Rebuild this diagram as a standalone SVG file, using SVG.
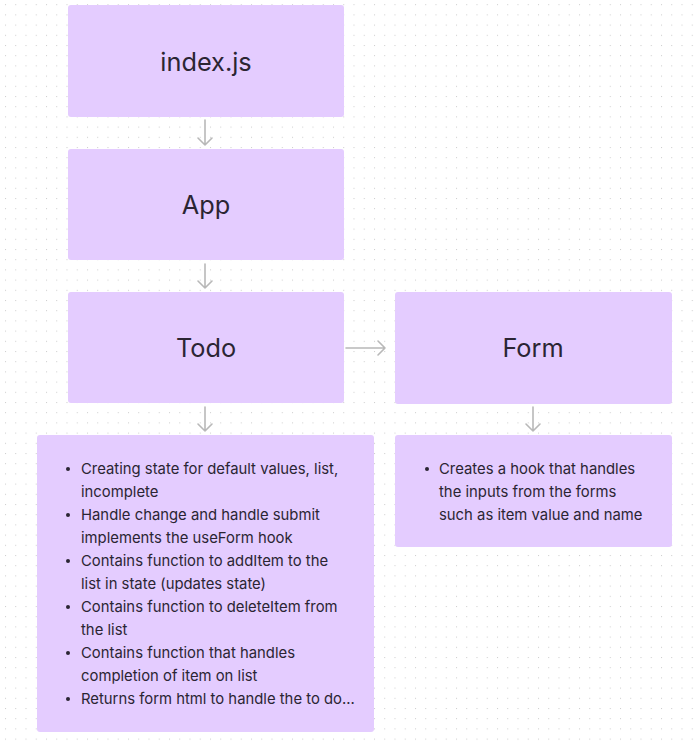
<svg xmlns="http://www.w3.org/2000/svg" width="694" height="746" viewBox="0 0 694 746">
<defs>
<pattern id="dots" x="5" y="4.2" width="10.25" height="10.2" patternUnits="userSpaceOnUse">
<rect x="0" y="0" width="1" height="1" fill="#cccccc"/>
</pattern>
<style>
.box{fill:#e4ccff;}
.title{font-family:Inter,"Noto Sans",sans-serif;font-size:25.3px;fill:#2b2533;text-anchor:middle;}
.txt{font-family:Inter,"Noto Sans",sans-serif;font-size:14.85px;fill:#2b2533;}
.con{stroke:#b8b8b8;stroke-width:1.6;fill:none;stroke-linecap:round;stroke-linejoin:round;}
.bul{fill:#2b2533;}
</style>
</defs>
<rect width="694" height="746" fill="#ffffff"/>
<rect width="694" height="746" fill="url(#dots)"/>
<g id="connectors">
<path class="con" d="M205 120 V145 M198 138 L205 145 L212 138"/>
<path class="con" d="M205 264 V288 M198 281 L205 288 L212 281"/>
<path class="con" d="M346 348 H385 M378 341 L385 348 L378 355"/>
<path class="con" d="M205 407 V431 M198 424 L205 431 L212 424"/>
<path class="con" d="M533 407 V431 M526 424 L533 431 L540 424"/>
</g>
<g id="node-index">
<rect class="box" x="68" y="5" width="276" height="112" rx="3"/>
<text class="title" x="206" y="71">index.js</text>
</g>
<g id="node-app">
<rect class="box" x="68" y="149" width="276" height="111" rx="3"/>
<text class="title" x="206" y="214">App</text>
</g>
<g id="node-todo">
<rect class="box" x="68" y="292" width="276" height="111" rx="3"/>
<text class="title" x="206" y="357">Todo</text>
</g>
<g id="node-form">
<rect class="box" x="395" y="292" width="277" height="112" rx="3"/>
<text class="title" x="533" y="357">Form</text>
</g>
<g id="node-todo-notes">
<rect class="box" x="37" y="435" width="337" height="297" rx="3"/>
<circle class="bul" cx="68" cy="469" r="2"/>
<circle class="bul" cx="68" cy="515" r="2"/>
<circle class="bul" cx="68" cy="561" r="2"/>
<circle class="bul" cx="68" cy="607" r="2"/>
<circle class="bul" cx="68" cy="653" r="2"/>
<circle class="bul" cx="68" cy="699" r="2"/>
<text class="txt" x="81" y="474">Creating state for default values, list,</text>
<text class="txt" x="81" y="497">incomplete</text>
<text class="txt" x="81" y="520">Handle change and handle submit</text>
<text class="txt" x="81" y="543">implements the useForm hook</text>
<text class="txt" x="81" y="566">Contains function to addItem to the</text>
<text class="txt" x="81" y="589">list in state (updates state)</text>
<text class="txt" x="81" y="612">Contains function to deleteItem from</text>
<text class="txt" x="81" y="635">the list</text>
<text class="txt" x="81" y="658">Contains function that handles</text>
<text class="txt" x="81" y="681">completion of item on list</text>
<text class="txt" x="81" y="704">Returns form html to handle the to do...</text>
</g>
<g id="node-form-notes">
<rect class="box" x="395" y="435" width="277" height="112" rx="3"/>
<circle class="bul" cx="427" cy="469" r="2"/>
<text class="txt" x="439" y="474">Creates a hook that handles</text>
<text class="txt" x="439" y="497">the inputs from the forms</text>
<text class="txt" x="439" y="520">such as item value and name</text>
</g>
</svg>
